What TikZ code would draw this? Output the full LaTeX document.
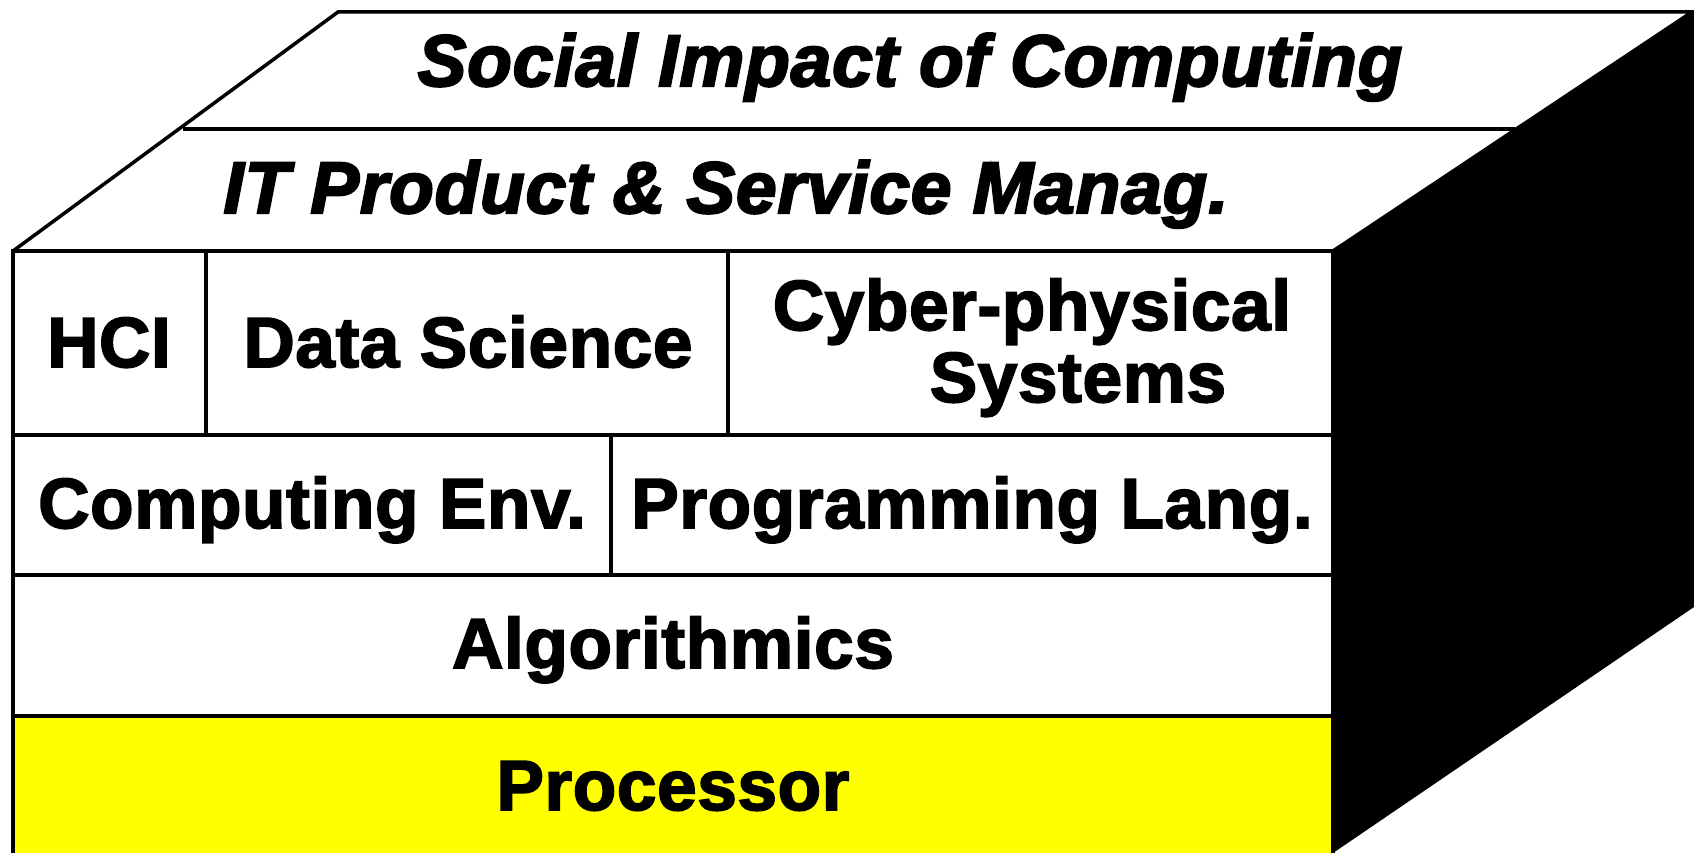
\documentclass[tikz,border=0pt]{standalone}
\usepackage{fontspec}
\setmainfont{Liberation Sans}
\newfontfamily\heavyfont[FakeBold=2.5,LetterSpace=1]{Liberation Sans}
\newfontfamily\heavyitfont[FakeBold=3,LetterSpace=1.2]{Liberation Sans}
\definecolor{procyellow}{RGB}{255,255,0}
\begin{document}
\begin{tikzpicture}[x=1pt,y=-1pt,line width=3.5pt,line join=miter,
  lbl/.style={font=\heavyfont\fontsize{71}{84}\selectfont\bfseries,anchor=base,inner sep=0pt},
  tlbl/.style={font=\heavyitfont\fontsize{73}{84}\selectfont\bfseries\itshape,anchor=base,inner sep=0pt}]
\useasboundingbox (0,0) rectangle (1694,853);
% side face
\fill[black] (1333,251) -- (1694,11) -- (1694,607) -- (1333,853) -- cycle;
% front bottom layer
\fill[procyellow] (13,716) rectangle (1333,853);
% top face
\draw (13,251) -- (338,12) -- (1692,12) -- (1333,251);
\draw (183,129) -- (1515,129);
% front face
\draw (13,853) -- (13,251) -- (1333,251) -- (1333,853);
\draw (13,435) -- (1333,435);
\draw (13,575) -- (1333,575);
\draw (13,716) -- (1333,716);
\draw (206,251) -- (206,435);
\draw (728,251) -- (728,435);
\draw (611,435) -- (611,575);
% labels
\node[tlbl] (social) at (910,86) {Social Impact of Computing};
\node[tlbl] (itpsm) at (726,213) {IT Product \& Service Manag.};
\node[lbl] (hci) at (109,367) {HCI};
\node[lbl] (ds) at (468,367) {Data Science};
\node[lbl] (cps1) at (1032,330) {Cyber-physical};
\node[lbl] (cps2) at (1078,402) {Systems};
\node[lbl] (ce) at (312,528) {Computing Env.};
\node[lbl] (pl) at (972,528) {Programming Lang.};
\node[lbl] (alg) at (673,668) {Algorithmics};
\node[lbl] (proc) at (673,810) {Processor};
\end{tikzpicture}
\end{document}
